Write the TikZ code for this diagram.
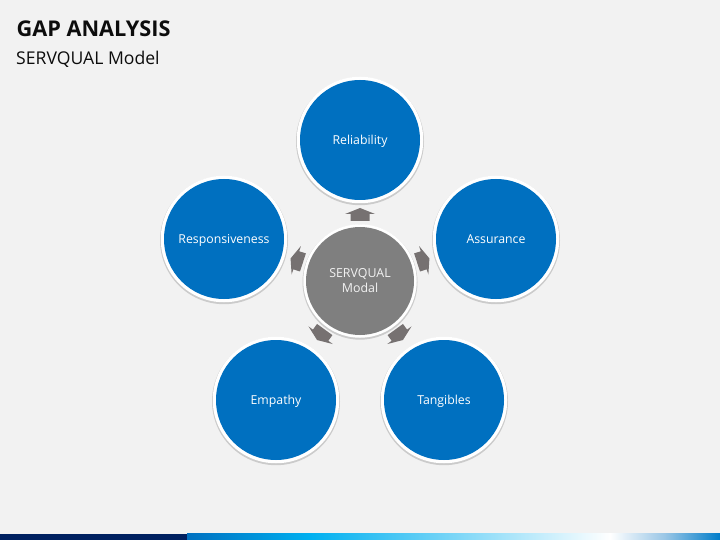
\documentclass[tikz,border=0pt]{standalone}
\usepackage{fontspec}
\setmainfont{Open Sans}
\definecolor{bgc}{HTML}{F2F2F2}
\definecolor{blu}{HTML}{0070C0}
\definecolor{gry}{HTML}{7F7F7F}
\definecolor{arr}{HTML}{767171}
\definecolor{navy}{HTML}{002060}
\definecolor{sky}{HTML}{00B0F0}
\tikzset{
  disc/.style={circle,inner sep=0pt,minimum size=120pt,fill=blu,text=white,font=\fontsize{12.3pt}{15pt}\selectfont,align=center,text height=10pt,text depth=1pt},
  hub/.style={circle,inner sep=0pt,minimum size=108pt,fill=gry,text=bgc,font=\fontsize{12.4pt}{15pt}\selectfont,align=center},
  ringc/.style={circle,inner sep=0pt,fill=white},
  shad/.style={circle,inner sep=0pt,fill=black,opacity=.16},
  blockarrow/.style={fill=arr,draw=none}
}
\newcommand{\bubble}[4]{%
  \node[shad,minimum size=128pt] (#1s) at (#2,#3+1.2) {};
  \node[ringc,minimum size=126.5pt] (#1r) at (#2,#3) {};
  \node[disc] (#1) at (#2,#3) {#4};}
\begin{document}
\begin{tikzpicture}[x=1pt,y=-1pt]
\useasboundingbox (0,0) rectangle (720,540);
\fill[bgc] (0,0) rectangle (720,540);
\node[anchor=west,font=\fontsize{21.7pt}{26pt}\selectfont\bfseries,text=black!95,inner sep=0pt] (title) at (16.5,29) {GAP ANALYSIS};
\node[anchor=west,font=\fontsize{17.6pt}{21pt}\selectfont,text=black!95,inner sep=0pt] (sub) at (16,59.5) {SERVQUAL Model};
\fill[navy] (0,533.5) rectangle (187,540);
\shade[left color=blu,right color=sky,middle color=blu!50!sky] (187,533.5) rectangle (310,540);
\shade[left color=sky,right color=white,middle color=sky!50!white] (310,533.5) rectangle (610,540);
\shade[left color=white,right color=blu!80!sky,middle color=blu!40!white] (610,533.5) rectangle (720,540);
\bubble{rel}{360}{140}{Reliability}
\bubble{asr}{496}{239}{Assurance}
\bubble{tan}{444}{400}{Tangibles}
\bubble{emp}{276}{400}{Empathy}
\bubble{res}{224}{239}{Responsiveness}
\node[shad,minimum size=115pt] (cs) at (360,282.2) {};
\node[ringc,minimum size=113.5pt] (cr) at (360,281) {};
\node[hub] (c) at (360,281) {SERVQUAL\\[0pt]Modal};
\foreach \a in {0,72,144,216,288}{
  \begin{scope}[shift={(360,281)},rotate=\a]
    \fill[blockarrow] (0,-73) -- (15,-67) -- (9.5,-67) -- (9.5,-60) -- (-9.5,-60) -- (-9.5,-67) -- (-15,-67) -- cycle;
  \end{scope}
}
\end{tikzpicture}
\end{document}
